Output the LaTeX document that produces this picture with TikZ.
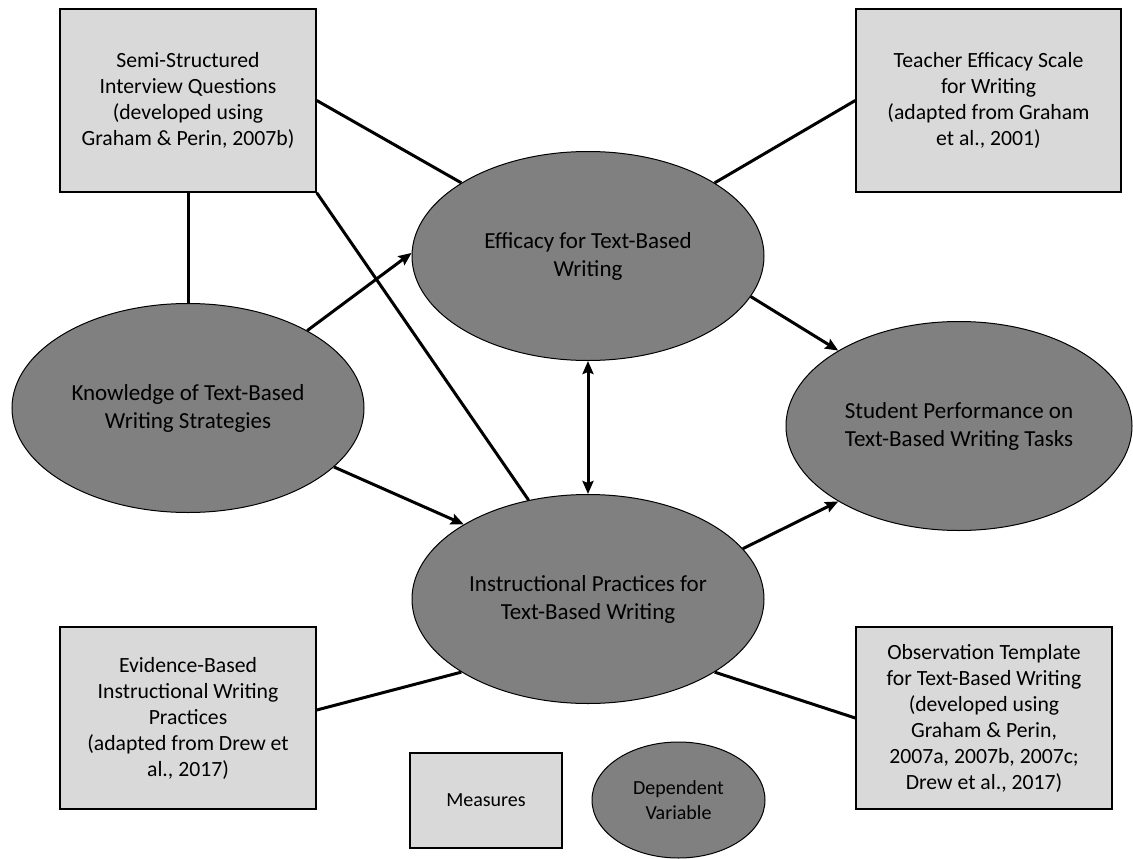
\documentclass[tikz,border=0pt]{standalone}
\usepackage{fontspec}
\setmainfont{Carlito}
\usetikzlibrary{shapes.geometric,arrows.meta}
\definecolor{boxgray}{HTML}{D9D9D9}
\definecolor{ellgray}{HTML}{808080}
\begin{document}
\begin{tikzpicture}[x=1pt,y=-1pt,
  measure/.style={draw=black,line width=1.5pt,fill=boxgray,rectangle,inner sep=0pt,align=center,font=\fontsize{21.7}{26}\selectfont},
  dv/.style={draw=black,line width=1pt,fill=ellgray,ellipse,inner sep=0pt,minimum width=352pt,minimum height=209pt,align=center,font=\fontsize{23}{28}\selectfont},
  link/.style={line width=3pt},
  >={Stealth[length=13pt,width=11pt,inset=2pt]},
  arr/.style={line width=3pt,->},
  darr/.style={line width=3pt,<->}]
\path[use as bounding box] (0,0) rectangle (1133,859);

% measures
\node[measure,minimum width=256pt,minimum height=183pt] (SSI) at (188,100.5) {Semi-Structured\\Interview Questions\\(developed using\\Graham \& Perin, 2007b)};
\node[measure,minimum width=265pt,minimum height=183pt] (TES) at (988.5,100.5) {Teacher Efficacy Scale\\for Writing\\(adapted from Graham\\et al., 2001)};
\node[measure,minimum width=256pt,minimum height=182pt] (EB) at (188,718) {Evidence-Based\\Instructional Writing\\Practices\\(adapted from Drew et\\al., 2017)};
\node[measure,minimum width=256pt,minimum height=182pt] (OT) at (984,718) {Observation Template\\for Text-Based Writing\\(developed using\\Graham \& Perin,\\2007a, 2007b, 2007c;\\Drew et al., 2017)};

% dependent variables
\node[dv] (K) at (188,408) {Knowledge of Text-Based\\Writing Strategies};
\node[dv] (E) at (588,256) {Efficacy for Text-Based\\Writing};
\node[dv] (I) at (588,599) {Instructional Practices for\\Text-Based Writing};
\node[dv,minimum width=346pt] (S) at (959,426) {Student Performance on\\Text-Based Writing Tasks};

% legend
\node[measure,minimum width=152pt,minimum height=95pt,font=\fontsize{20}{25}\selectfont] (LM) at (486,800.5) {Measures};
\node[dv,minimum width=173pt,minimum height=116pt,font=\fontsize{20}{25}\selectfont] (LD) at (678.5,800) {Dependent\\Variable};

% connectors
\draw[link] (SSI.south) -- (K.north);
\draw[link] (SSI.east) -- (E.150);
\draw[link] (SSI.south east) -- (I.121);
\draw[link] (TES.west) -- (E.30);
\draw[link] ([yshift=8pt]EB.east) -- (I.210);
\draw[link] (OT.west) -- (I.-30);

\draw[arr] (K.33) -- (E.179);
\draw[arr] (K.-22) -- (I.149);
\draw[darr] (E.south) -- (I.north);
\draw[arr] (E.-14) -- (S.148);
\draw[arr] (I.18) -- (S.212);
\end{tikzpicture}
\end{document}
